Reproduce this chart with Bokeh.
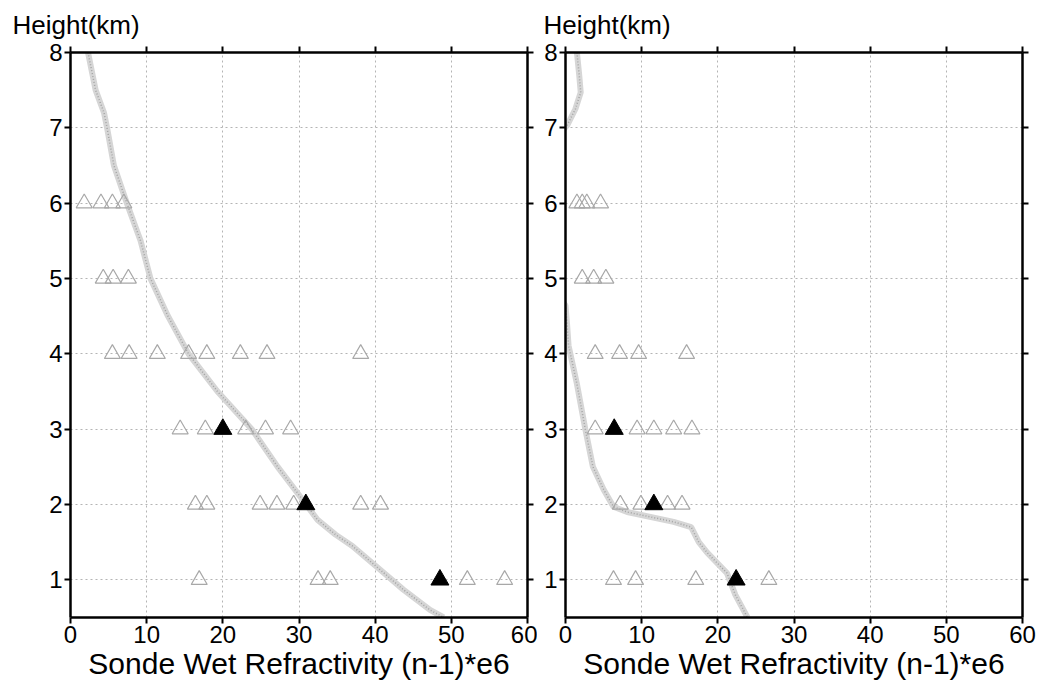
from bokeh.plotting import figure
from bokeh.layouts import row
from bokeh.models import Range1d, LinearAxis, FixedTicker, Title, CustomJSTickFormatter
from bokeh.embed import file_html
from bokeh.resources import INLINE

# ---------------- data ----------------
x_ticks = [0, 10, 20, 30, 40, 50, 60]
y_ticks = [1, 2, 3, 4, 5, 6, 7, 8]
x_label = "Sonde Wet Refractivity (n-1)*e6"
y_label = "Height(km)"

# left panel: sonde profile
left_curve_h = [8.0, 7.5, 7.2, 7.0, 6.5, 6.0, 5.5, 5.0, 4.5, 4.0, 3.5, 3.0, 2.5, 2.1, 1.8, 1.6, 1.45, 1.13, 0.87, 0.6, 0.5]
left_curve_x = [2.3, 3.3, 4.4, 4.8, 5.7, 7.4, 9.2, 10.5, 12.8, 15.5, 19.3, 23.8, 27.2, 30.2, 32.4, 34.8, 37.0, 40.7, 43.7, 47.2, 49.0]

# left panel: open triangles per level
left_open = {
    6: [1.8, 4.0, 5.5, 7.0],
    5: [4.3, 5.6, 7.6],
    4: [5.5, 7.7, 11.4, 15.5, 17.9, 22.3, 25.8, 38.1],
    3: [14.4, 17.7, 23.0, 25.6, 28.9],
    2: [16.4, 17.9, 24.9, 27.1, 29.3, 38.1, 40.7],
    1: [16.9, 32.5, 34.1, 52.1, 57.0],
}
left_filled_x = [20.0, 30.9, 48.5]
left_filled_h = [3, 2, 1]

# right panel: sonde profile
right_curve_h = [8.0, 7.7, 7.47, 7.25, 7.03, 6.9, 4.8, 4.64, 4.4, 4.11, 3.6, 3.0, 2.5, 2.2, 1.97, 1.9, 1.77, 1.7, 1.5, 1.36, 1.09, 0.8, 0.5]
right_curve_x = [1.5, 1.8, 2.0, 1.3, 0.2, -1.0, -1.0, 0.0, 0.2, 0.4, 1.5, 2.6, 3.6, 5.0, 6.3, 8.1, 14.2, 16.5, 17.5, 18.6, 21.2, 22.3, 23.9]

right_open = {
    6: [1.5, 2.2, 2.8, 4.6],
    5: [2.2, 3.7, 5.3],
    4: [3.9, 7.1, 9.6, 15.9],
    3: [3.9, 9.4, 11.6, 14.2, 16.6],
    2: [7.2, 9.9, 13.4, 15.3],
    1: [6.3, 9.2, 17.1, 26.7],
}
right_filled_x = [6.4, 11.6, 22.4]
right_filled_h = [3, 2, 1]

FONT = "Liberation Sans"


def flatten(d):
    xs, hs = [], []
    for h, vals in d.items():
        for v in vals:
            xs.append(v)
            hs.append(h)
    return xs, hs


def style_axis(ax, ticks, labels=True):
    ax.ticker = FixedTicker(ticks=ticks)
    ax.axis_line_width = 2.5
    ax.axis_line_color = "black"
    ax.major_tick_line_width = 2
    ax.major_tick_line_color = "black"
    ax.major_tick_in = 0
    ax.major_tick_out = 6
    ax.minor_tick_line_color = None
    ax.major_label_text_font = FONT
    ax.major_label_text_font_size = "24px"
    ax.major_label_text_color = "black"
    ax.major_label_standoff = 2
    if not labels:
        ax.formatter = CustomJSTickFormatter(code="return ''")
        ax.major_label_standoff = 0
        ax.major_label_text_font_size = "10px"


def make_panel(width, bl, br, curve_x, curve_h, open_d, fx, fh, title_offset):
    p = figure(width=width, height=684, x_range=Range1d(0, 60), y_range=Range1d(0.5, 8),
               output_backend="svg", toolbar_location=None,
               min_border_left=bl, min_border_right=br, min_border_top=52, min_border_bottom=67)
    p.outline_line_color = None
    p.background_fill_color = "white"
    p.border_fill_color = "white"

    style_axis(p.xaxis[0], x_ticks)
    style_axis(p.yaxis[0], y_ticks)
    p.xaxis[0].axis_label = x_label
    p.xaxis[0].axis_label_text_font = FONT
    p.xaxis[0].axis_label_text_font_size = "30px"
    p.xaxis[0].axis_label_text_font_style = "normal"
    p.xaxis[0].axis_label_text_color = "black"
    p.xaxis[0].axis_label_standoff = 1

    top = LinearAxis()
    style_axis(top, x_ticks, labels=False)
    p.add_layout(top, "above")
    right = LinearAxis()
    style_axis(right, y_ticks, labels=False)
    p.add_layout(right, "right")

    p.add_layout(Title(text=y_label, align="left", offset=title_offset, standoff=14,
                       text_font=FONT, text_font_size="26px",
                       text_font_style="normal", text_color="black"), "above")

    for g in (p.xgrid[0], p.ygrid[0]):
        g.grid_line_color = "#b4b4b4"
        g.grid_line_dash = "2 3"
        g.grid_line_width = 1
    p.xgrid[0].ticker = FixedTicker(ticks=x_ticks)
    p.ygrid[0].ticker = FixedTicker(ticks=y_ticks)

    # sonde profile: thick speckled gray band
    p.line(curve_x, curve_h, line_color="#d6d6d6", line_width=6)
    p.line(curve_x, curve_h, line_color="#a4a4a4", line_width=1.5, line_dash="1 2")

    ox, oh = flatten(open_d)
    p.scatter(ox, oh, marker="triangle", size=16, fill_color=None,
              line_color="#a8a8a8", line_width=1.2)
    p.scatter(fx, fh, marker="triangle", size=18, fill_color="black", line_color="black")
    return p


p1 = make_panel(537, 70, 10, left_curve_x, left_curve_h, left_open,
                left_filled_x, left_filled_h, -58)
p2 = make_panel(503, 28, 18, right_curve_x, right_curve_h, right_open,
                right_filled_x, right_filled_h, -22)

layout = row(p1, p2)
open("out.html", "w").write(file_html(layout, INLINE))
